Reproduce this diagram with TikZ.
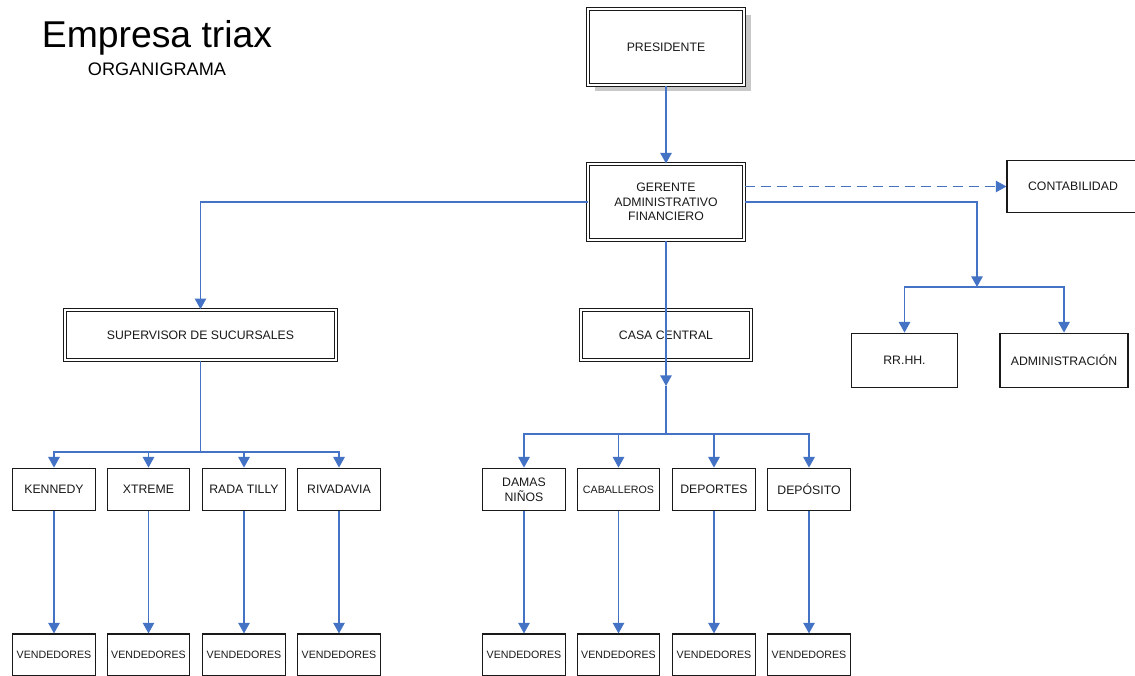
\documentclass[tikz,border=0pt]{standalone}
\usepackage{fontspec}
\setmainfont{Liberation Sans}
\usetikzlibrary{arrows.meta,shadows}
\definecolor{link}{RGB}{68,114,196}
\definecolor{ink}{RGB}{25,25,25}
\definecolor{shade}{RGB}{200,200,200}
\tikzset{
  box/.style={draw=ink, line width=0.8pt, fill=white, align=center, inner sep=1pt,
    text=ink, font=\fontsize{9.2}{11}\selectfont},
  dbox/.style={box, double=white, double distance=1.5pt, line width=0.75pt},
  rowbox/.style={box, minimum width=62pt, minimum height=32pt},
  sellbox/.style={rowbox, minimum height=31.5pt, font=\fontsize{8}{10}\selectfont},
  conn/.style={draw=link, line width=1.3pt},
  tip/.style={conn, -{Triangle[width=8.5pt,length=8pt]}},
}
\begin{document}
\begin{tikzpicture}[x=0.75pt, y=-0.75pt]
  % page frame
  \fill[white] (0,0) rectangle (1135,675);
  \useasboundingbox (0,0) rectangle (1135,675);

  % heading
  \node[anchor=base, inner sep=0, text=black] (title) at (157,47)
    {\fontsize{28}{32}\selectfont Empresa triax};
  \node[anchor=base, inner sep=0, text=black] (subtitle) at (157,75)
    {\fontsize{13.6}{16}\selectfont ORGANIGRAMA};

  % top levels
  \node[dbox, minimum width=117pt, minimum height=57pt,
        drop shadow={shadow xshift=5.5pt, shadow yshift=-4.5pt, fill=shade, opacity=1}]
        (pres) at (666,47) {PRESIDENTE};
  \node[dbox, minimum width=117pt, minimum height=57pt] (ger) at (666,202)
        {GERENTE\\ADMINISTRATIVO\\FINANCIERO};
  \node[box, minimum width=99pt, minimum height=39.5pt] (conta) at (1073,186.5) {CONTABILIDAD};

  \node[dbox, minimum width=203pt, minimum height=38pt] (sup) at (200.5,335)
        {SUPERVISOR DE SUCURSALES};
  \node[dbox, minimum width=128pt, minimum height=38pt] (casa) at (666,335) {CASA CENTRAL};

  \node[box, minimum width=79.5pt, minimum height=41pt] (rrhh) at (904.5,360.5) {RR.HH.};
  \node[box, minimum width=96pt, minimum height=41pt] (adm) at (1064,360.5) {ADMINISTRACIÓN};

  % branches
  \node[rowbox] (ken) at (54,489.5) {KENNEDY};
  \node[rowbox] (xtr) at (148.5,489.5) {XTREME};
  \node[rowbox] (rada) at (244,489.5) {RADA TILLY};
  \node[rowbox] (riva) at (339,489.5) {RIVADAVIA};

  \node[rowbox] (dam) at (524,489.5) {DAMAS\\NIÑOS};
  \node[rowbox, font=\fontsize{8}{10}\selectfont] (cab) at (618.5,489.5) {CABALLEROS};
  \node[rowbox] (dep) at (714,489.5) {DEPORTES};
  \node[rowbox] (depo) at (809,489.5) {DEPÓSITO};

  % sales staff
  \foreach \n/\x in {v1/54, v2/148.5, v3/244, v4/339, v5/524, v6/618.5, v7/714, v8/809}
    \node[sellbox] (\n) at (\x,655) {VENDEDORES};

  % junction points
  \coordinate (hubR) at (977,287);
  \coordinate (busL) at (200.5,452);
  \coordinate (casaTip) at (666,386);
  \coordinate (busC) at (666,434);

  % connectors
  \draw[tip] (pres) -- (ger);
  \draw[tip, dash pattern=on 7.5pt off 4.5pt] (ger.east |- conta) -- (conta.west);
  \draw[tip] (ger.east) -| (hubR);
  \draw[tip] (hubR) -| (rrhh);
  \draw[tip] (hubR) -| (adm);

  \draw[tip] (ger.west) -| (sup);
  \draw[conn] (sup) -- (busL);
  \foreach \b in {ken, xtr, rada, riva}
    \draw[tip] (busL) -| (\b);

  \draw[tip] (ger.south) -- (casaTip);
  \draw[conn, line width=2pt] (casaTip) -- (busC);
  \foreach \b in {dam, cab, dep, depo}
    \draw[tip] (busC) -| (\b);

  \foreach \a/\b in {ken/v1, xtr/v2, rada/v3, riva/v4, dam/v5, cab/v6, dep/v7, depo/v8}
    \draw[tip] (\a) -- (\b);
\end{tikzpicture}
\end{document}
